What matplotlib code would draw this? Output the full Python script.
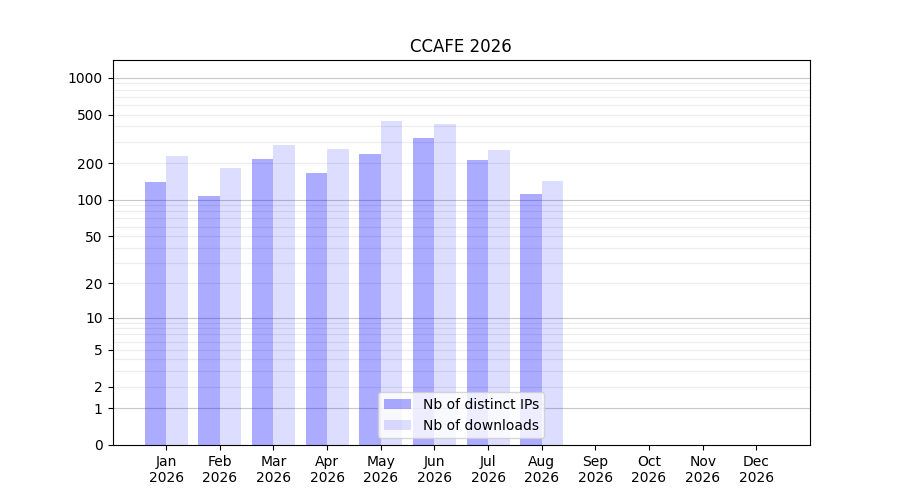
import numpy as np
import matplotlib
matplotlib.use("Agg")
import matplotlib.pyplot as plt

months = ["Jan", "Feb", "Mar", "Apr", "May", "Jun", "Jul", "Aug", "Sep", "Oct", "Nov", "Dec"]
year = "2026"
ips = [140, 108, 217, 166, 238, 323, 213, 112]
downloads = [230, 183, 283, 262, 445, 421, 257, 143]

ytick_vals = [0, 1, 2, 5, 10, 20, 50, 100, 200, 500, 1000]


def fwd(x):
    return np.log10(1 + np.maximum(x, -0.999))


def inv(y):
    return 10 ** y - 1


fig, ax = plt.subplots(figsize=(9, 5), dpi=100)
ax.set_yscale("function", functions=(fwd, inv))

# grid lines: light ones at 2..9 x 10^k, darker at the decades
for k in range(0, 4):
    for m in range(2, 10):
        ax.axhline(m * 10 ** k, color="#ececec", lw=0.8, zorder=0)
    ax.axhline(10 ** k, color="#c8c8c8", lw=0.8, zorder=0)

x = np.arange(len(ips))
ax.bar(x - 0.2, ips, width=0.4, color="blue", alpha=0.33, label="Nb of distinct IPs", zorder=2)
ax.bar(x + 0.2, downloads, width=0.4, color="blue", alpha=0.135, label="Nb of downloads", zorder=2)

ax.set_xticks(np.arange(len(months)))
ax.set_xticklabels([m + "\n" + year for m in months])
ax.set_xlim(-1, 12)
ax.set_ylim(0, 1400)
ax.set_yticks(ytick_vals)
ax.set_yticklabels([str(v) for v in ytick_vals])
ax.yaxis.set_minor_locator(matplotlib.ticker.NullLocator())

ax.set_title("CCAFE 2026")
ax.legend(loc="lower center")

fig.savefig("out.png")
